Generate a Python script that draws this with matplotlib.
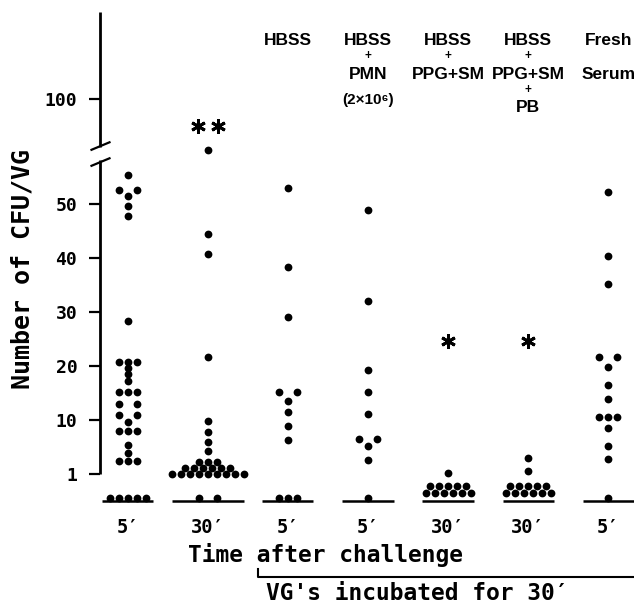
import numpy as np
import matplotlib
matplotlib.use("Agg")
import matplotlib.pyplot as plt
from matplotlib.transforms import ScaledTranslation, blended_transform_factory
from matplotlib.lines import Line2D
from collections import Counter

# ---------------- data ----------------
time_labels = ["5′", "30′", "5′", "5′", "30′", "30′", "5′"]
condition_lines = [
    [],
    [],
    ["HBSS"],
    ["HBSS", "+", "PMN", "(2×10⁶)"],
    ["HBSS", "+", "PPG+SM"],
    ["HBSS", "+", "PPG+SM", "+", "PB"],
    ["Fresh", "", "Serum"],
]
g1 = [55.4, 52.6, 52.6, 51.5, 49.7, 47.8, 28.4, 20.8, 20.8, 20.8, 19.7, 18.5, 17.2,
      15.2, 15.2, 15.2, 13.0, 13.0, 11.0, 11.0, 9.6, 8.1, 8.1, 8.1, 5.9, 4.5,
      3.1, 3.1, 3.1, 0, 0, 0, 0, 0]
g2 = [60, 44.4, 40.7, 21.7, 9.8, 8.0, 6.3, 4.8, 3.0, 3.0, 3.0,
      1.95, 1.95, 1.95, 1.95, 1.95, 1.95,
      1.0, 1.0, 1.0, 1.0, 1.0, 1.0, 1.0, 1.0, 1.0, 0, 0]
g3 = [53.0, 38.4, 29.0, 15.2, 15.2, 13.6, 11.5, 9.05, 6.7, 0, 0, 0]
g4 = [48.8, 32.1, 19.2, 15.1, 11.1, 6.8, 6.8, 5.7, 3.3, 0]
g5 = [1.2, 0.5, 0.5, 0.5, 0.5, 0.5, 0.2, 0.2, 0.2, 0.2, 0.2, 0.2]
g6 = [3.6, 1.55, 0.5, 0.5, 0.5, 0.5, 0.5, 0.2, 0.2, 0.2, 0.2, 0.2, 0.2]
g7 = [52.3, 40.3, 35.1, 21.7, 21.7, 19.9, 16.4, 13.8, 10.6, 10.6, 10.6, 8.6, 5.7, 3.45, 0]
groups = [g1, g2, g3, g4, g5, g6, g7]
y_ticks = [1, 10, 20, 30, 40, 50, 100]
signif_groups = [1, 4, 5]
signif_marks = [2, 1, 1]
signif_levels = [79, 24.6, 24.6]

# ---------------- styling ----------------
plt.rcParams['font.family'] = ['DejaVu Sans Mono', 'DejaVu Sans']
plt.rcParams['font.weight'] = 'bold'
W, H = 634, 605
fig = plt.figure(figsize=(W / 100, H / 100), dpi=100)
ax_left, ax_top, ax_bot = 99.5, 12.0, 506.4
ax = fig.add_axes([ax_left / W, (H - ax_bot) / H, (W - ax_left) / W, (ax_bot - ax_top) / H])


def fwd(v):
    v = np.asarray(v, dtype=float)
    return np.where(v < 1, 4.5 * (v - 1),
           np.where(v < 10, (v - 1) * 10.0 / 9.0,
           np.where(v < 60, v, 60 + (v - 60) * 0.235)))


def inv(p):
    p = np.asarray(p, dtype=float)
    return np.where(p < 0, 1 + p / 4.5,
           np.where(p < 10, 1 + p * 0.9,
           np.where(p < 60, p, 60 + (p - 60) / 0.235)))


ax.set_yscale('function', functions=(fwd, inv))
ax.set_xlim(-0.35, 6.32)
ax.set_ylim(float(inv(-6.0)), float(inv(85.56)))

for s in ax.spines.values():
    s.set_visible(False)
ax.set_xticks([])
ax.set_yticks(y_ticks)
ax.set_yticklabels([str(t) for t in y_ticks])
ax.yaxis.set_minor_locator(matplotlib.ticker.NullLocator())
ax.tick_params(axis='y', direction='out', length=8, width=1.6, pad=8, labelsize=13)

SLOT = 9.0 / 80.1
ytr = ax.get_yaxis_transform()
line_shift = ax.transData + ScaledTranslation(0, -2.2 / 72, fig.dpi_scale_trans)

for gi, vals in enumerate(groups):
    xs, ys = [], []
    for v, n in Counter(vals).items():
        if n == 1:
            offs = [0.0]
        elif n == 2:
            offs = [-1.0, 1.0]
        else:
            offs = [i - (n - 1) / 2 for i in range(n)]
        for o in offs:
            xs.append(gi + o * SLOT)
            ys.append(v)
    ax.plot(xs, ys, 'o', color='black', ms=5.6, mew=0, clip_on=False, zorder=3)
    half = max(0.32, max(abs(x - gi) for x in xs))
    ax.plot([gi - half, gi + half], [0, 0], color='black', lw=1.8,
            transform=line_shift, clip_on=False, solid_capstyle='butt')

# significance marks
for gi, n, lev in zip(signif_groups, signif_marks, signif_levels):
    offs = [0.0] if n == 1 else [-1.1, 1.1]
    ax.plot([gi + o * SLOT for o in offs], [lev] * n, linestyle='none',
            marker=(6, 2, 0), ms=10.5, mew=2.1, color='black', clip_on=False)

# y axis line with break
fig.canvas.draw()
c_disp = ax.transData.transform((0, 59.3))
c_disp[0] = ax.transAxes.transform((0, 0))[0]
invd = ax.transData.inverted()
v_lo = invd.transform((c_disp[0], c_disp[1] - 6.5))[1]
v_hi = invd.transform((c_disp[0], c_disp[1] + 6.5))[1]
ytop = ax.get_ylim()[1]
ax.plot([0, 0], [1, v_lo], color='black', lw=2.0, transform=ytr, clip_on=False,
        solid_capstyle='butt')
ax.plot([0, 0], [v_hi, ytop], color='black', lw=2.0, transform=ytr, clip_on=False,
        solid_capstyle='butt')
for (x0, y0, x1, y1) in [(-8, 4, 10, 11.5), (-8, -12, 10, -4.5)]:
    fig.add_artist(Line2D([(c_disp[0] + x0) / W, (c_disp[0] + x1) / W],
                          [(c_disp[1] + y0) / H, (c_disp[1] + y1) / H],
                          transform=fig.transFigure, color='black', lw=1.6))

# x labels
xfig = blended_transform_factory(ax.transData, fig.transFigure)
for gi, lab in enumerate(time_labels):
    fig.text(gi, 1 - 533 / H, lab, transform=xfig, ha='center', va='baseline',
             fontsize=13.5)

fig.text(325 / W, 1 - 562 / H, "Time after challenge", ha='center', va='baseline',
         fontsize=16.5)
fig.text(417 / W, 1 - 600 / H, "VG's incubated for 30′", ha='center', va='baseline',
         fontsize=16.5)
fig.add_artist(Line2D([258 / W, 258 / W, 1.0], [1 - 569 / H, 1 - 577 / H, 1 - 577 / H],
                      transform=fig.transFigure, color='black', lw=1.5))

fig.text(23 / W, 1 - 269 / H, "Number of CFU/VG", rotation=90, ha='center', va='center',
         fontsize=18)

# condition labels
head_font = ['Liberation Sans', 'DejaVu Sans']
row_y = [45, 55.5, 79, 89.5, 112]
for gi, lines in enumerate(condition_lines):
    for i, t in enumerate(lines):
        if not t:
            continue
        if t == '+':
            fig.text(gi, 1 - row_y[i] / H, t, transform=xfig, ha='center', va='center',
                     fontsize=8.5, family=head_font, fontweight='bold')
        elif i == 3:
            fig.text(gi, 1 - 104 / H, t, transform=xfig, ha='center', va='baseline',
                     fontsize=11, family=head_font, fontweight='bold')
        else:
            fig.text(gi, 1 - row_y[i] / H, t, transform=xfig, ha='center', va='baseline',
                     fontsize=12.5, family=head_font, fontweight='bold')

fig.savefig("out.png", dpi=100)
